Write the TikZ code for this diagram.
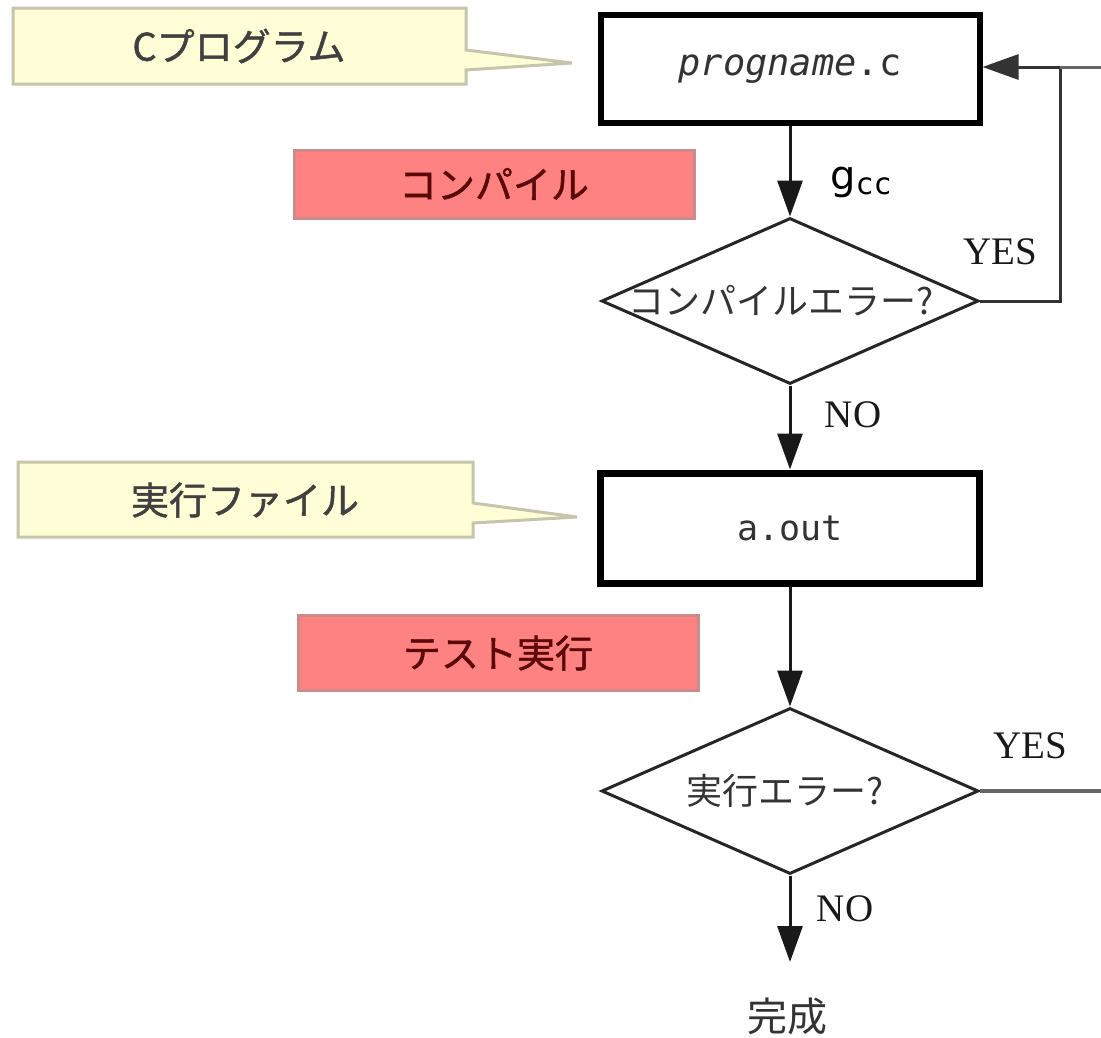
\documentclass[tikz,border=0pt]{standalone}
\usepackage{fontspec}
\setmainfont{Liberation Serif}
\newfontfamily\jpf{Noto Sans CJK JP}
\newfontfamily\jpfb{Noto Sans CJK JP}[FakeBold=1.2]
\newfontfamily\monof{DejaVu Sans Mono}
\newfontfamily\sansf{DejaVu Sans}
\usetikzlibrary{arrows.meta,shapes.geometric}
\definecolor{yfill}{HTML}{FFFED6}
\definecolor{ydraw}{HTML}{C6C4AA}
\definecolor{pfill}{HTML}{FF8282}
\definecolor{pdraw}{HTML}{CC8A8A}
\definecolor{ptext}{HTML}{5A0808}
\definecolor{greyline}{HTML}{666666}
\begin{document}
\begin{tikzpicture}[x=1pt,y=-1pt,
  box/.style={draw=black, line width=6pt, fill=white, minimum width=379pt, minimum height=108pt, inner sep=0pt},
  decision/.style={diamond, draw=black!85, line width=3pt, minimum width=377pt, minimum height=166pt, inner sep=0pt},
  dtext/.style={font=\jpf\fontsize{36}{40}\selectfont, text=black!80, inner sep=0pt},
  ycall/.style={fill=yfill, draw=ydraw, line width=3pt, line join=miter},
  ytext/.style={font=\jpfb\fontsize{38}{44}\selectfont, text=black!75, inner sep=0pt},
  pinkbox/.style={fill=pfill, draw=pdraw, line width=3pt, minimum width=400pt, inner sep=0pt, font=\jpfb\fontsize{38}{44}\selectfont, text=ptext},
  flow/.style={line width=3pt, draw=black!90, -{Triangle[length=36pt,width=25pt]}},
  lbl/.style={font=\fontsize{39}{42}\selectfont, text=black!90, inner sep=0pt},
]
\useasboundingbox (0,0) rectangle (1101,1037);
% callouts
\path[ycall] (13,8) -- (466,8) -- (466,50) -- (572,63) -- (466,70) -- (466,84) -- (13,84) -- cycle;
\node[ytext] (c1) at (239,46) {Cプログラム};
\path[ycall] (18,462) -- (473,462) -- (473,503) -- (577,517) -- (473,523) -- (473,537) -- (18,537) -- cycle;
\node[ytext] (c2) at (245,500) {実行ファイル};
% pink labels
\node[pinkbox, minimum height=68pt] (p1) at (494,184) {コンパイル};
\node[pinkbox, minimum height=75pt] (p2) at (498,653) {テスト実行};
% flow nodes
\node[box] (prog) at (790,69) {\monof\fontsize{37}{40}\selectfont\color{black!80}\textit{progname}.c};
\node[decision] (d1) at (790,301) {};
\node[dtext] (d1t) at (781,301) {コンパイルエラー?};
\node[box, minimum height=110pt, line width=7pt] (aout) at (790,528) {\monof\fontsize{35}{40}\selectfont\color{black!80}a.out};
\node[decision] (d2) at (790,791) {};
\node[dtext] (d2t) at (785,791) {実行エラー?};
\coordinate (endp) at (790,962);
\node[font=\jpf\fontsize{40}{44}\selectfont, text=black!80, inner sep=0pt] (done) at (787,1016) {完成};
\coordinate (rt) at (1060,67);
\coordinate (edge1) at (1101,67);
\coordinate (edge2) at (1101,791);
% connectors
\draw[flow] (prog.south) -- (d1.north);
\draw[flow] (d1.south) -- (aout.north);
\draw[flow] (aout.south) -- (d2.north);
\draw[flow] (d2.south) -- (endp);
\draw[flow, draw=black!80] (d1.east) -| (rt) -- (prog.east |- rt);
\draw[greyline, line width=3pt] (edge1) -- (rt);
\draw[greyline, line width=4pt] (d2.east) -- (edge2);
% labels
\node[anchor=west, inner sep=0pt] (gcc) at (830,182) {{\sansf\fontsize{40}{40}\selectfont\raisebox{5pt}{g}}{\monof\fontsize{30}{34}\selectfont cc}};
\node[lbl] (yes1) at (1000,252) {YES};
\node[lbl] (no1) at (853,415) {NO};
\node[lbl] (yes2) at (1030,746) {YES};
\node[lbl] (no2) at (845,909) {NO};
\end{tikzpicture}
\end{document}
